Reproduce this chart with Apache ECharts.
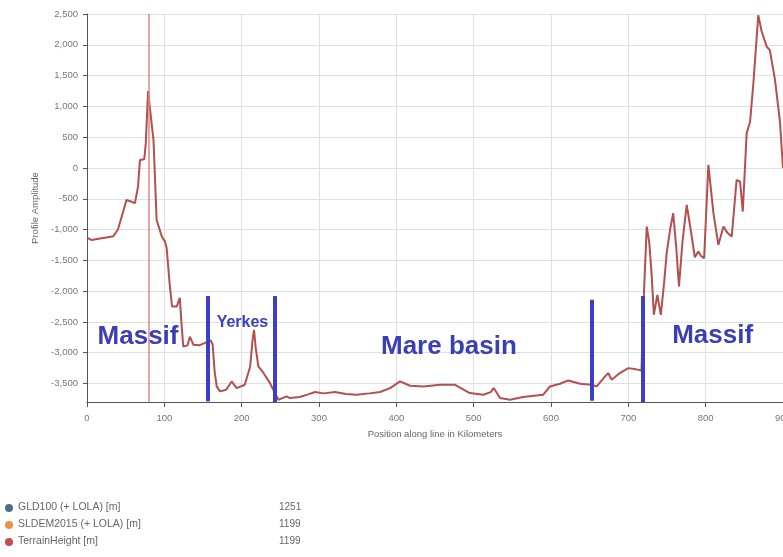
<!DOCTYPE html>
<html>
<head>
<meta charset="utf-8">
<script src="https://cdn.jsdelivr.net/npm/echarts@6/dist/echarts.min.js"></script>
<style>
html,body{margin:0;padding:0;background:#fff;}
#chart{width:783px;height:557px;}
</style>
</head>
<body>
<div id="chart"></div>
<script>
// Position along line (km)
var positionKm = [0,6,15,25,34,40,47,51,56,62,66,68.5,74,76,79,82,86,90,96.6,101,103,107,110,116,120,122,124.5,130,133,137.5,145,152.6,160,162.5,165,167.7,172,180,187,193.6,204,211,214,216,218,221.5,228,236.6,243,247.5,258,262.5,275,285,295,305.6,320.7,335,348.8,365,379,392,404.8,417.7,435,456.5,476,495,512.5,522,526,534,547,564,590,598.7,611.7,622.4,637.5,652.6,659,670,674,678.5,689,700,710,717,720,723.8,727,730,733,737.5,742,746,749.6,754,758,762,765.5,770,775.5,780,786,790.5,794,798,803.5,810,816.4,823,828,833.7,840,844.5,848,853,857.4,861.7,868,872.5,879,883,889.7,896,900];
// Terrain height (m)
var terrainHeight = [-1130,-1170,-1150,-1130,-1110,-1000,-700,-520,-540,-570,-300,130,140,400,1250,900,450,-840,-1110,-1200,-1300,-1900,-2250,-2250,-2110,-2500,-2900,-2880,-2740,-2870,-2880,-2840,-2800,-2870,-3300,-3547,-3628,-3600,-3466,-3574,-3520,-3223,-2800,-2628,-2900,-3223,-3325,-3493,-3654,-3763,-3709,-3736,-3720,-3680,-3638,-3660,-3638,-3670,-3682,-3660,-3638,-3574,-3466,-3536,-3550,-3520,-3520,-3655,-3682,-3640,-3574,-3736,-3763,-3720,-3682,-3547,-3504,-3450,-3504,-3520,-3547,-3385,-3330,-3440,-3330,-3250,-3270,-3290,-2087,-952,-1200,-1708,-2384,-2060,-2384,-1900,-1384,-1000,-735,-1300,-1925,-1200,-600,-950,-1450,-1357,-1430,-1465,50,-730,-1250,-952,-1050,-1114,-195,-222,-708,562,751,1373,2480,2211,1968,1914,1427,760,0];

// Cursor position (km)
var cursorKm = 80;

// Region divider lines: [km, top m, bottom m]
var dividerKm = [156, 243, 653, 719];
var dividerTop = [-2080, -2080, -2140, -2080];
var dividerBottom = [-3790, -3800, -3780, -3800];

// Region labels
var regionNames = ['Massif', 'Yerkes', 'Mare basin', 'Massif'];
var regionKm = [66, 201, 468, 809];
var regionM = [-2740, -2514, -2900, -2725];

// Legend
var legendNames = ['GLD100 (+ LOLA) [m]', 'SLDEM2015 (+ LOLA) [m]', 'TerrainHeight [m]'];
var legendValues = ['1251', '1199', '1199'];
var legendColors = ['#4b6c93', '#e8924c', '#c2504f'];

var lineData = positionKm.map(function (x, i) { return [x, terrainHeight[i]]; });
var dividerData = dividerKm.map(function (x, i) {
  return [{ coord: [x, dividerTop[i]] }, { coord: [x, dividerBottom[i]] }];
});
var regionData = regionNames.map(function (n, i) {
  return { value: [regionKm[i], regionM[i]], name: n,
    label: { fontSize: n === 'Yerkes' ? 16 : 26 } };
});

var graphics = [];
var rowY = [508, 525, 542];
legendNames.forEach(function (n, i) {
  graphics.push({ type: 'circle', left: 5, top: rowY[i] - 4, shape: { r: 4 }, style: { fill: legendColors[i] } });
  graphics.push({ type: 'text', left: 18, top: rowY[i] - 6, style: { text: n, fill: '#666', font: '10.5px "Liberation Sans", sans-serif' } });
  graphics.push({ type: 'text', left: 279, top: rowY[i] - 6, style: { text: legendValues[i], fill: '#666', font: '10px "Liberation Sans", sans-serif' } });
});

var chart = echarts.init(document.getElementById('chart'));
chart.setOption({
  animation: false,
  backgroundColor: '#fff',
  grid: { left: 87, right: 0, top: 14, bottom: 155, containLabel: false, outerBoundsMode: 'none' },
  xAxis: {
    type: 'value', min: 0, max: 900, interval: 100,
    name: 'Position along line in Kilometers', nameLocation: 'middle', nameGap: 27,
    nameTextStyle: { color: '#666', fontSize: 9.5, fontFamily: 'Liberation Sans' },
    axisLine: { show: true, onZero: false, lineStyle: { color: '#555', width: 1 } },
    axisTick: { show: true, length: 5, lineStyle: { color: '#555' } },
    axisLabel: { color: '#777', fontSize: 9.5, margin: 11, fontFamily: 'Liberation Sans', hideOverlap: false },
    splitLine: { show: true, lineStyle: { color: '#e0e0e0', width: 1 } }
  },
  yAxis: {
    type: 'value', min: -3800, max: 2500, splitNumber: 12,
    name: 'Profile Amplitude', nameLocation: 'middle', nameGap: 46,
    nameTextStyle: { color: '#666', fontSize: 9.5, fontFamily: 'Liberation Sans' },
    axisLine: { show: true, onZero: false, lineStyle: { color: '#555', width: 1 } },
    axisTick: { show: true, length: 4, lineStyle: { color: '#555' } },
    axisLabel: { color: '#777', fontSize: 9.5, margin: 9, showMinLabel: false, fontFamily: 'Liberation Sans' },
    splitLine: { show: true, lineStyle: { color: '#e0e0e0', width: 1 } }
  },
  graphic: graphics,
  series: [
    {
      type: 'line', name: 'TerrainHeight [m]', data: lineData, showSymbol: false,
      lineStyle: { color: '#b3504f', width: 2 }, itemStyle: { color: '#b3504f' },
      z: 3
    },
    {
      type: 'line', data: [], showSymbol: false, z: 2,
      markLine: {
        silent: true, symbol: 'none', label: { show: false },
        data: [{ xAxis: cursorKm, lineStyle: { color: '#e58585', width: 1.5, type: 'solid', opacity: 1 } }]
      }
    },
    {
      type: 'line', data: [], showSymbol: false,
      markLine: {
        silent: true, symbol: 'none', label: { show: false },
        lineStyle: { color: '#3a3fc4', width: 4, type: 'solid' },
        data: dividerData
      },
      z: 4
    },
    {
      type: 'scatter', data: regionData, symbolSize: 1,
      itemStyle: { color: 'rgba(0,0,0,0)', opacity: 1 },
      label: { show: true, position: 'inside', formatter: '{b}', color: '#3a3fb3', opacity: 1,
        fontWeight: 'bold', fontFamily: 'Liberation Sans' },
      z: 5, silent: true
    }
  ]
});
</script>
</body>
</html>
